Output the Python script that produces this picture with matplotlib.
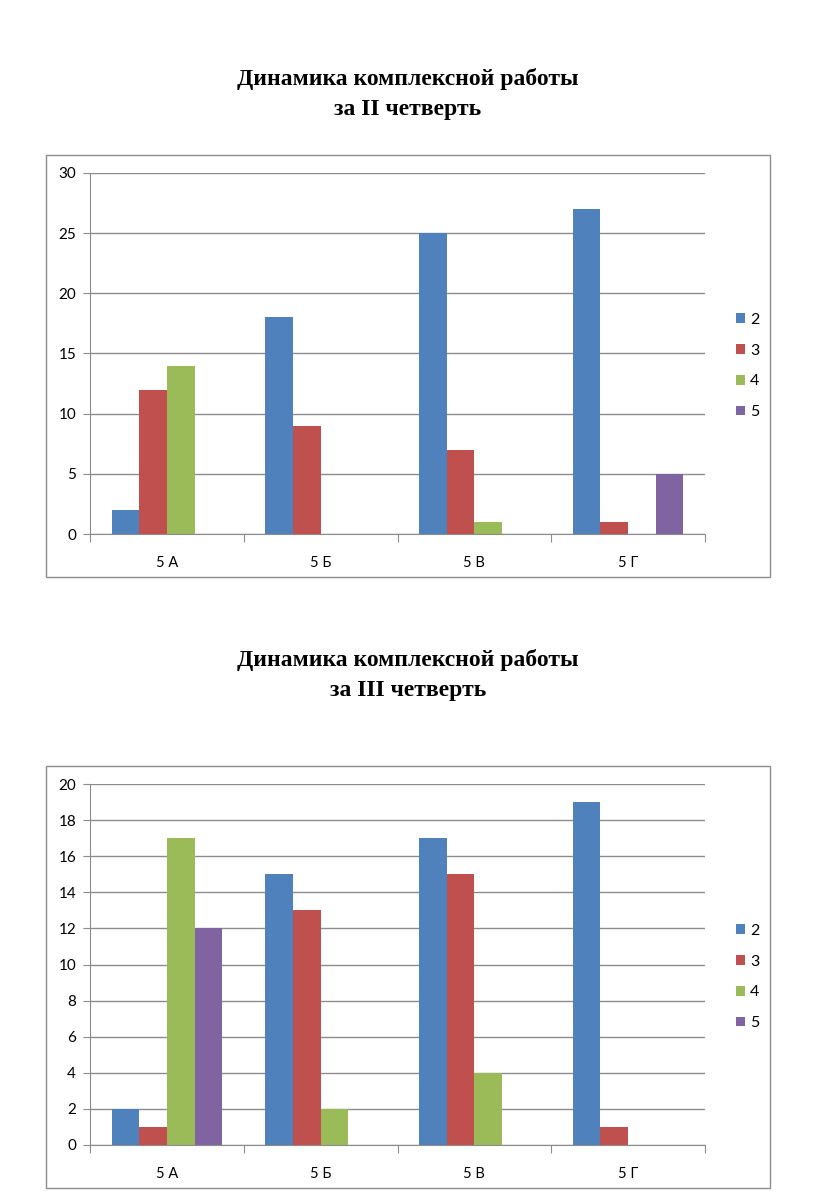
import matplotlib
matplotlib.use("Agg")
import matplotlib.pyplot as plt
import numpy as np
from matplotlib.patches import Rectangle

categories = ["5 А", "5 Б", "5 В", "5 Г"]
series_names = ["2", "3", "4", "5"]
colors = ["#4F81BD", "#C0504D", "#9BBB59", "#8064A2"]

q2_grade2 = [2, 18, 25, 27]
q2_grade3 = [12, 9, 7, 1]
q2_grade4 = [14, 0, 1, 0]
q2_grade5 = [0, 0, 0, 5]

q3_grade2 = [2, 15, 17, 19]
q3_grade3 = [1, 13, 15, 1]
q3_grade4 = [17, 2, 4, 0]
q3_grade5 = [12, 0, 0, 0]

title_q2 = "Динамика комплексной работы\nза II четверть"
title_q3 = "Динамика комплексной работы\nза III четверть"

W, H = 816, 1193
fig = plt.figure(figsize=(W / 100, H / 100), dpi=100)

tick_font = "Lato"
grid_c = "#8C8C8C"


def px_axes(x0, y0, x1, y1):
    return fig.add_axes([x0 / W, 1 - y1 / H, (x1 - x0) / W, (y1 - y0) / H])


def draw_chart(box, plot, data, ymax, ystep, title, title_y, legend_y):
    bx0, by0, bx1, by1 = box
    fig.patches.append(Rectangle((bx0 / W, 1 - by1 / H), (bx1 - bx0) / W, (by1 - by0) / H,
                                 transform=fig.transFigure, fill=False,
                                 edgecolor="#8E8E8E", linewidth=1.0))
    fig.text(0.5, 1 - title_y / H, title, ha="center", va="center",
             fontsize=17, fontweight="bold", family="Liberation Serif", linespacing=1.6)
    ax = px_axes(*plot)
    n = len(categories)
    x = np.arange(n)
    bw = 0.18
    handles = []
    for i, vals in enumerate(data):
        h = ax.bar(x + (i - 1.5) * bw, vals, width=bw, color=colors[i], label=series_names[i])
        handles.append(h)
    ax.set_xlim(-0.5, n - 0.5)
    ax.set_ylim(0, ymax)
    ax.set_yticks(np.arange(0, ymax + 0.1, ystep))
    ax.yaxis.grid(True, color=grid_c, linewidth=1.0)
    ax.set_axisbelow(True)
    for s in ["top", "right"]:
        ax.spines[s].set_visible(False)
    ax.spines["left"].set_color(grid_c)
    ax.spines["bottom"].set_color(grid_c)
    ax.set_xticks(np.arange(-0.5, n, 1.0))
    ax.set_xticklabels([])
    ax.set_xticks(x, minor=True)
    ax.set_xticklabels(categories, minor=True)
    ax.tick_params(axis="x", which="major", length=6, color=grid_c, direction="out")
    ax.tick_params(axis="x", which="minor", length=0, pad=16, labelsize=10.5)
    ax.tick_params(axis="y", length=5, color=grid_c, pad=5, labelsize=11)
    for lab in ax.get_xticklabels(minor=True) + ax.get_yticklabels():
        lab.set_family(tick_font)
    fig.legend(handles=handles, labels=series_names, loc="center left",
               bbox_to_anchor=(722 / W, 1 - (legend_y + 1) / H), frameon=False,
               handlelength=0.55, handleheight=0.55, handletextpad=0.3,
               labelspacing=1.05, prop={"family": tick_font, "size": 11.5})
    return ax


draw_chart((46, 155, 770, 577), (90, 173, 705, 534),
           [q2_grade2, q2_grade3, q2_grade4, q2_grade5], 30, 5, title_q2, 94, 365)
draw_chart((46, 766, 770, 1188), (90, 784, 705, 1145),
           [q3_grade2, q3_grade3, q3_grade4, q3_grade5], 20, 2, title_q3, 675, 976)

fig.savefig("out.png", dpi=100)
